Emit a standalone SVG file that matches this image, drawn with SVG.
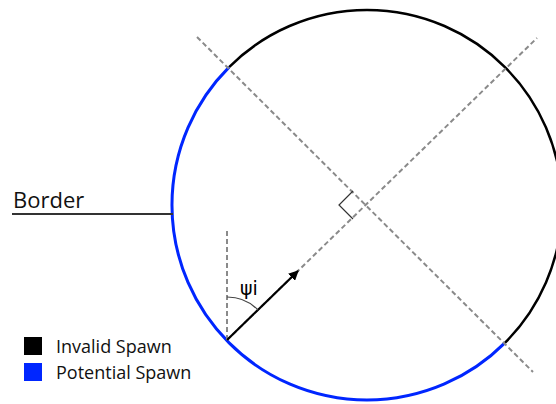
<svg xmlns="http://www.w3.org/2000/svg" width="556" height="404" viewBox="0 0 556 404">
<style>
.dash{stroke:#8a8a8a;stroke-width:2;stroke-dasharray:5 3;fill:none}
.lbl{font-family:"Open Sans","Liberation Sans",sans-serif;fill:#111}
</style>
<defs>
<marker id="ah" markerWidth="10" markerHeight="10" refX="9" refY="5" orient="auto" markerUnits="userSpaceOnUse" viewBox="0 0 10 10">
<path d="M0,0 L10,5 L0,10 z" fill="#000"/>
</marker>
</defs>
<rect width="556" height="404" fill="#fff"/>
<g id="circle">
<path d="M229.1 67.1 A195 195 0 0 1 504.9 67.1 A195 195 0 0 1 504.9 342.9" fill="none" stroke="#000" stroke-width="2.5"/>
<path d="M504.9 342.9 A195 195 0 0 1 229.1 342.9 A195 195 0 0 1 229.1 67.1" fill="none" stroke="#0026ff" stroke-width="3"/>
</g>
<g id="connectors">
<line class="dash" x1="197" y1="37" x2="533" y2="372"/>
<line class="dash" x1="227" y1="340" x2="537" y2="38"/>
<line class="dash" x1="227" y1="231" x2="227" y2="340"/>
<polyline points="353,191 339,205 353,219" fill="none" stroke="#333" stroke-width="1.2"/>
<line x1="227" y1="340" x2="298" y2="271" stroke="#000" stroke-width="2.2" marker-end="url(#ah)"/>
<path d="M227 297 A43 43 0 0 1 258 310" fill="none" stroke="#444" stroke-width="1.2"/>
</g>
<g id="border">
<line x1="12" y1="214" x2="173" y2="214" stroke="#333" stroke-width="2"/>
<text class="lbl" x="13" y="208" font-size="22">Border</text>
</g>
<text x="240" y="295" font-size="19" font-family="'DejaVu Sans','Liberation Sans',sans-serif" fill="#000">ψi</text>
<g id="legend">
<rect x="24" y="337" width="18" height="18" fill="#000"/>
<text class="lbl" x="56" y="353" font-size="18">Invalid Spawn</text>
<rect x="24" y="363" width="18" height="18" fill="#0026ff"/>
<text class="lbl" x="56" y="379" font-size="18">Potential Spawn</text>
</g>
</svg>
